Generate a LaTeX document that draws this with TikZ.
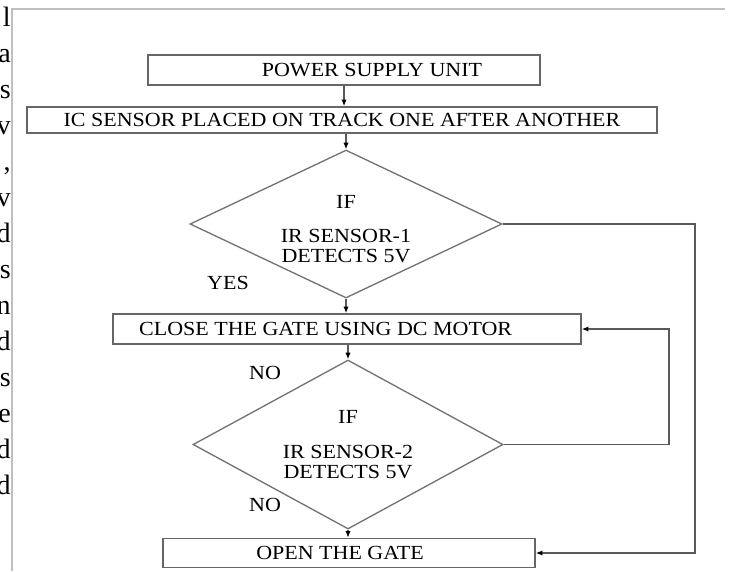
\documentclass[tikz,border=0pt]{standalone}
\usepackage{fontspec}
\setmainfont[FakeStretch=1.1]{Liberation Serif}
\newfontfamily\colfont{Liberation Serif}
\usetikzlibrary{arrows.meta, positioning, shapes.geometric}

\begin{document}
\begin{tikzpicture}[x=0.75pt, y=-0.75pt,
    txt/.style={font=\fontsize{15pt}{15pt}\selectfont, text=black},
    box/.style={txt, draw=black!60, line width=1.1pt, rectangle, minimum height=22.5pt, inner sep=0pt},
    decision/.style={txt, draw=black!55, line width=1pt, diamond, aspect=2, inner sep=0pt, align=center},
    arr/.style={draw=black!65, line width=1pt, -{Latex[length=5pt, width=4pt, color=black]}},
    frag/.style={anchor=base east, inner sep=0pt, font=\colfont\fontsize{21pt}{21pt}\selectfont}
]
    \useasboundingbox (0,0) rectangle (730,571);
    % page edge and the cut column on the left
    \draw[black!25, line width=1.2pt] (12,571) -- (12,9) -- (725,9);
    \foreach \ch [count=\i from 0] in {l,a,s,v,{,},v,d,s,n,d,s,e,d,d}
        \node[frag] (col\i) at (11, 26+36*\i) {\ch};

    \node[box, minimum width=294pt] (psu) at (344,70) {\hspace*{42pt}POWER SUPPLY UNIT};
    \node[box, minimum width=472.5pt, minimum height=19.5pt] (sensor) at (342,120) {IC SENSOR PLACED ON TRACK ONE AFTER ANOTHER};
    \node[decision, minimum width=234pt, minimum height=111pt] (dec1) at (346,224) {IF\\[10pt]IR SENSOR-1\\DETECTS 5V\\[-22.5pt]};
    \node[box, minimum width=351pt] (close) at (347,329) {CLOSE THE GATE USING DC MOTOR\hspace*{32pt}};
    \node[decision, minimum width=232.5pt, minimum height=126.75pt] (dec2) at (348,444.5) {IF\\[11.5pt]IR SENSOR-2\\DETECTS 5V};
    \node[box, minimum width=279pt, minimum height=21.75pt] (open) at (349,553) {OPEN THE GATE\hspace*{13.5pt}};

    \node[txt] (yes) at (228,283) {YES};
    \node[txt] (no1) at (265,373) {NO};
    \node[txt] (no2) at (265,505) {NO};

    \coordinate (rail1) at (695,0);
    \coordinate (rail2) at (669,0);

    \draw[arr] (psu.south) -- (psu.south |- sensor.north);
    \draw[arr] (sensor.south -| dec1.north) -- (dec1.north);
    \draw[arr] (dec1.south) -- (dec1.south |- close.north);
    \draw[arr] (close.south -| dec2.north) -- (dec2.north);
    \draw[arr] (dec2.south) -- (dec2.south |- open.north);
    \draw[arr] (dec1.east) -- (dec1.east -| rail1) |- (open.east);
    \draw[arr] (dec2.east) -- (dec2.east -| rail2) |- (close.east);
\end{tikzpicture}
\end{document}
